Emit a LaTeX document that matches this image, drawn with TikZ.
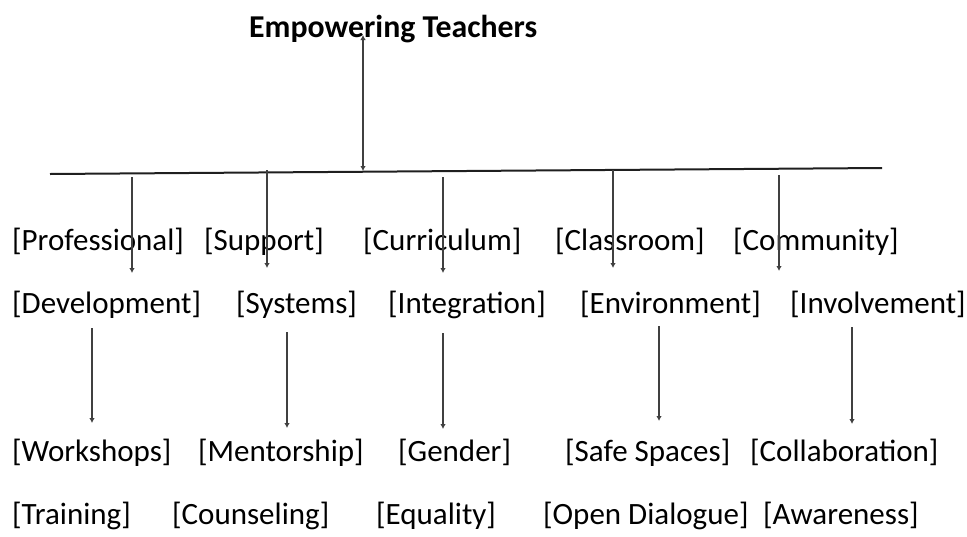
\documentclass[tikz,border=0pt]{standalone}
\usepackage{fontspec}
\setmainfont{Carlito}
\usetikzlibrary{arrows.meta}
\begin{document}
\begin{tikzpicture}[x=1pt,y=-1pt,
  lbl/.style={inner sep=0pt, anchor=base west, font=\fontsize{31}{37}\selectfont},
  ttl/.style={inner sep=0pt, anchor=base west, font=\fontsize{31.8}{38}\selectfont\bfseries},
  link/.style={draw=black!75, line width=2pt, -{Latex[length=5pt,width=5.5pt]}},
  dlink/.style={draw=black!75, line width=2pt, {Latex[length=5pt,width=5.5pt]}-{Latex[length=5pt,width=5.5pt]}},
  bar/.style={draw=black!88, line width=2pt}]
\useasboundingbox (0,0) rectangle (967,536);
% title
\node[ttl] (title) at (249,37) {Empowering Teachers};
% row 1
\node[lbl] (p1) at (12,250) {[Professional]};
\node[lbl] (s1) at (204,250) {[Support]};
\node[lbl] (c1) at (363,250) {[Curriculum]};
\node[lbl] (e1) at (555,250) {[Classroom]};
\node[lbl] (i1) at (733,250) {[Community]};
% row 2
\node[lbl] (p2) at (12,313) {[Development]};
\node[lbl] (s2) at (236,313) {[Systems]};
\node[lbl] (c2) at (388,313) {[Integration]};
\node[lbl] (e2) at (580,313) {[Environment]};
\node[lbl] (i2) at (790,313) {[Involvement]};
% row 3
\node[lbl] (p3) at (12,461) {[Workshops]};
\node[lbl] (s3) at (198,461) {[Mentorship]};
\node[lbl] (c3) at (398,461) {[Gender]};
\node[lbl] (e3) at (565,461) {[Safe Spaces]};
\node[lbl] (i3) at (750,461) {[Collaboration]};
% row 4
\node[lbl] (p4) at (12,524) {[Training]};
\node[lbl] (s4) at (172,524) {[Counseling]};
\node[lbl] (c4) at (376,524) {[Equality]};
\node[lbl] (e4) at (543,524) {[Open Dialogue]};
\node[lbl] (i4) at (763,524) {[Awareness]};
% bar and hub
\coordinate (barL) at (50,174);
\coordinate (barR) at (882,168);
\draw[bar] (barL) -- (barR);
\coordinate (hubT) at (363,35);
\coordinate (hubB) at (363,171);
\draw[dlink] (hubT) -- (hubB);
% first level arrows
\coordinate (a1s) at (132,177); \coordinate (a1e) at (132,273);
\coordinate (a2s) at (267,170); \coordinate (a2e) at (267,268);
\coordinate (a3s) at (443,177); \coordinate (a3e) at (443,273);
\coordinate (a4s) at (613,170); \coordinate (a4e) at (613,268);
\coordinate (a5s) at (779,175); \coordinate (a5e) at (779,271);
\draw[link] (a1s) -- (a1e);
\draw[link] (a2s) -- (a2e);
\draw[link] (a3s) -- (a3e);
\draw[link] (a4s) -- (a4e);
\draw[link] (a5s) -- (a5e);
% second level arrows
\coordinate (b1s) at (92,328); \coordinate (b1e) at (92,423);
\coordinate (b2s) at (287,332); \coordinate (b2e) at (287,428);
\coordinate (b3s) at (443,333); \coordinate (b3e) at (443,429);
\coordinate (b4s) at (659,326); \coordinate (b4e) at (659,421);
\coordinate (b5s) at (852,327); \coordinate (b5e) at (852,424);
\draw[link] (b1s) -- (b1e);
\draw[link] (b2s) -- (b2e);
\draw[link] (b3s) -- (b3e);
\draw[link] (b4s) -- (b4e);
\draw[link] (b5s) -- (b5e);
\end{tikzpicture}
\end{document}
